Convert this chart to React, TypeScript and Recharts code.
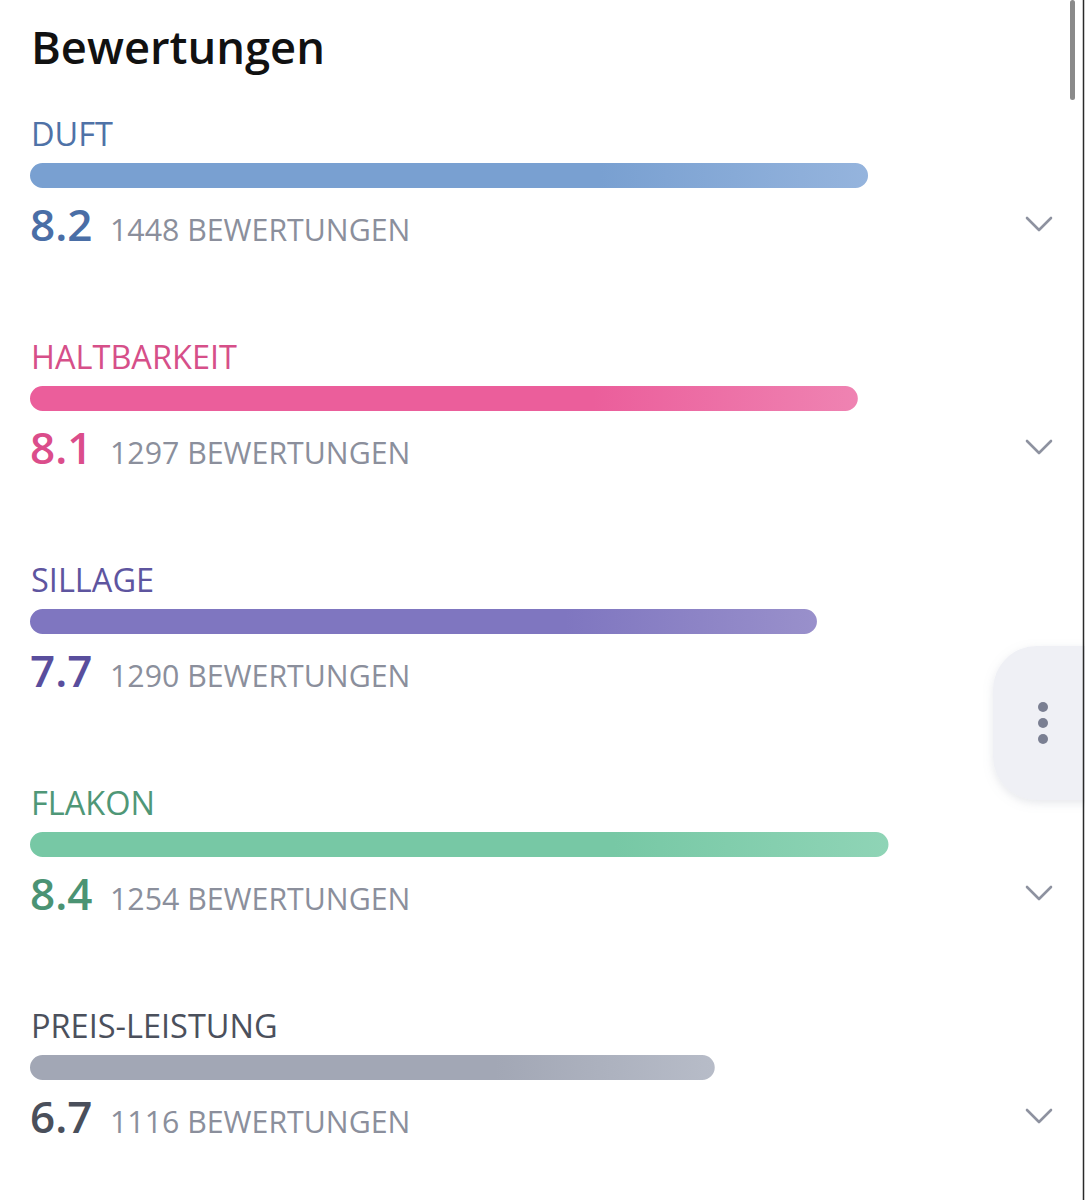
import React from 'react';
import { BarChart, Bar, XAxis, YAxis, Cell, LabelList } from 'recharts';

// Rating categories, average scores and number of votes
const categories = ['DUFT', 'HALTBARKEIT', 'SILLAGE', 'FLAKON', 'PREIS-LEISTUNG'];
const scores = [8.2, 8.1, 7.7, 8.4, 6.7];
const voteCounts = [1448, 1297, 1290, 1254, 1116];
// Rows that show the expand chevron (the third one sits under the floating menu button)
const hasChevron = [true, true, false, true, true];

const palette = [
  { bar: '#79a0d1', barEnd: '#95b4dd', label: '#4f72a7', score: '#4a6ea6' },
  { bar: '#eb5e9b', barEnd: '#ef83b2', label: '#d64f89', score: '#db4d8b' },
  { bar: '#7f76c0', barEnd: '#9990cb', label: '#5e559f', score: '#594e9d' },
  { bar: '#77c8a5', barEnd: '#8fd4b6', label: '#4f9777', score: '#4b9373' },
  { bar: '#a2a7b5', barEnd: '#b7bcc8', label: '#4b505c', score: '#4a4f5b' },
];

const FONT = '"Open Sans", "Noto Sans", sans-serif';
const COUNT_COLOR = '#8b8f9c';

const data = categories.map((name, i) => ({
  name,
  score: scores[i],
  count: voteCounts[i],
}));

function RowLabel(props: any) {
  const { y, height, index } = props;
  const i = index as number;
  const c = palette[i];
  const top = Number(y);
  const bottom = top + Number(height);
  return (
    <g>
      <text x={31} y={top - 17} fontFamily={FONT} fontSize={32.5} fill={c.label}>
        {categories[i]}
      </text>
      <text x={30} y={bottom + 53} fontFamily={FONT} fontSize={44} fontWeight={600} fill={c.score}>
        {scores[i].toFixed(1)}
      </text>
      <text x={110} y={bottom + 53} fontFamily={FONT} fontSize={30.3} fill={COUNT_COLOR}>
        {`${voteCounts[i]} BEWERTUNGEN`}
      </text>
      {hasChevron[i] && (
        <polyline
          points={`1027,${bottom + 30} 1039,${bottom + 42} 1051,${bottom + 30}`}
          fill="none"
          stroke="#8e92a0"
          strokeWidth={2.6}
          strokeLinecap="round"
          strokeLinejoin="round"
        />
      )}
    </g>
  );
}

export default function App() {
  return (
    <div style={{ position: 'absolute', left: 0, top: 0, width: 1085, height: 1200, background: '#ffffff' }}>
      <svg width={1085} height={1200} style={{ position: 'absolute', left: 0, top: 0 }}>
        <text x={31} y={64} fontFamily={FONT} fontSize={45.3} fontWeight={600} fill="#111111">
          Bewertungen
        </text>
      </svg>
      <div style={{ position: 'absolute', left: 0, top: 0 }}>
        <BarChart
          width={1085}
          height={1200}
          data={data}
          layout="vertical"
          margin={{ top: 64, right: 33, bottom: 21, left: 30 }}
          barSize={25}
        >
          <defs>
            {palette.map((c, i) => (
              <linearGradient key={i} id={`barGrad${i}`} x1="0" y1="0" x2="1" y2="0">
                <stop offset="0%" stopColor={c.bar} />
                <stop offset="68%" stopColor={c.bar} />
                <stop offset="100%" stopColor={c.barEnd} />
              </linearGradient>
            ))}
          </defs>
          <XAxis type="number" domain={[0, 10]} hide />
          <YAxis type="category" dataKey="name" hide />
          <Bar dataKey="score" radius={12.5} isAnimationActive={false}>
            {data.map((_, i) => (
              <Cell key={i} fill={`url(#barGrad${i})`} />
            ))}
            <LabelList dataKey="score" content={(p: any) => <RowLabel {...p} />} />
          </Bar>
        </BarChart>
      </div>
      <svg width={1085} height={1200} style={{ position: 'absolute', left: 0, top: 0, pointerEvents: 'none' }}>
        <defs>
          <filter id="menuShadow" x="-30%" y="-30%" width="160%" height="160%">
            <feDropShadow dx="0" dy="3" stdDeviation="5" floodColor="#9aa0b0" floodOpacity="0.25" />
          </filter>
        </defs>
        {/* floating overflow menu button */}
        <rect x={993} y={646} width={140} height={154} rx={44} fill="#eff0f5" filter="url(#menuShadow)" />
        <circle cx={1043} cy={707} r={5} fill="#7a7f92" />
        <circle cx={1043} cy={723} r={5} fill="#7a7f92" />
        <circle cx={1043} cy={739} r={5} fill="#7a7f92" />
        {/* scrollbar thumb */}
        <rect x={1070} y={0} width={5} height={100} rx={2.5} fill="#8a8a8a" />
        <line x1={1083.5} y1={0} x2={1083.5} y2={1200} stroke="#2a2a2a" strokeWidth={1.5} />
      </svg>
    </div>
  );
}
